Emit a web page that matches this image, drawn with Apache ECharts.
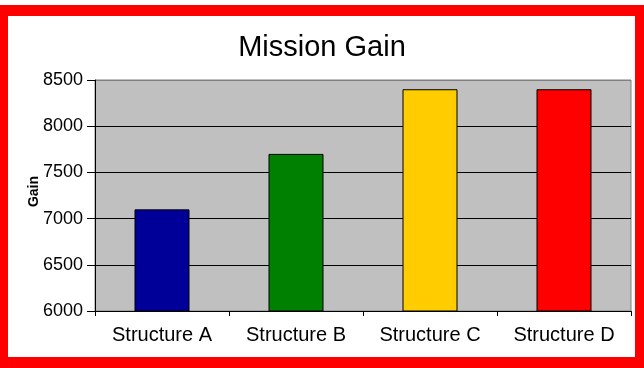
<!DOCTYPE html>
<html>
<head>
<meta charset="utf-8">
<script src="https://cdn.jsdelivr.net/npm/echarts@6/dist/echarts.min.js"></script>
<style>
  html, body { margin: 0; padding: 0; background: #fff; }
  #chart { position: absolute; left: 0; top: 0; width: 644px; height: 368px; }
  #frame {
    position: absolute; left: 0; top: 5px; width: 644px; height: 363px;
    box-sizing: border-box; pointer-events: none;
    border-style: solid; border-color: #ff0000;
    border-width: 11px 9px 11px 8px;
  }
</style>
</head>
<body>
<div id="chart"></div>
<div id="frame"></div>
<script>
// chart data
const categories = ["Structure A", "Structure B", "Structure C", "Structure D"];
const gainValues = [7100, 7700, 8400, 8400];
const barColors = ["#000099", "#008000", "#ffcc00", "#ff0000"];

const chart = echarts.init(document.getElementById("chart"));
const font = "Liberation Sans, Arial, sans-serif";

chart.setOption({
  animation: false,
  title: {
    text: "Mission Gain",
    left: "center",
    top: 28,
    textStyle: { fontFamily: font, fontSize: 29, fontWeight: "normal", color: "#000" },
  },
  grid: {
    left: 95,
    top: 80,
    right: 13,
    bottom: 57,
    show: true,
    backgroundColor: "#c0c0c0",
    borderColor: "#808080",
    borderWidth: 1,
  },
  xAxis: {
    type: "category",
    data: categories,
    axisLine: { lineStyle: { color: "#000" } },
    axisTick: { show: true, length: 5, lineStyle: { color: "#000" } },
    axisLabel: { fontFamily: font, fontSize: 20, color: "#000", margin: 14 },
  },
  yAxis: {
    type: "value",
    min: 6000,
    max: 8500,
    interval: 500,
    name: "Gain",
    nameLocation: "middle",
    nameGap: 54,
    nameMoveOverlap: false,
    nameRotate: 90,
    nameTextStyle: {
      fontFamily: font, fontSize: 14, fontWeight: "bold", color: "#000",
      padding: [0, 0, 0, 8],
    },
    axisLine: { show: true, lineStyle: { color: "#000" } },
    axisTick: { show: true, length: 8, lineStyle: { color: "#000" } },
    axisLabel: {
      fontFamily: font, fontSize: 18, color: "#000", margin: 12,
      formatter: (v) => String(v),
    },
    splitLine: {
      show: true,
      lineStyle: { color: ["#000", "#000", "#000", "#000", "#000", "#808080"], width: 1 },
    },
  },
  series: [
    {
      type: "bar",
      barWidth: 55,
      data: gainValues.map((v, i) => ({
        value: v,
        itemStyle: { color: barColors[i], borderColor: "#000", borderWidth: 1 },
      })),
    },
  ],
});
</script>
</body>
</html>
